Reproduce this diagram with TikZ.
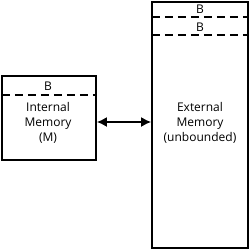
\documentclass[tikz,border=0pt]{standalone}
\usepackage{fontspec}
\setmainfont{Open Sans}
\usetikzlibrary{arrows.meta}
\begin{document}
\begin{tikzpicture}[x=1pt,y=-1pt,
  box/.style={draw, line width=1.8pt, fill=white},
  dashline/.style={line width=1.5pt, dash pattern=on 8pt off 5pt},
  lbl/.style={font=\fontsize{12}{14.8}\selectfont, align=center, inner sep=0pt},
  conn/.style={line width=1.5pt, {Latex[length=10pt,width=10pt]}-{Latex[length=10pt,width=10pt]}}]
\useasboundingbox (0,0) rectangle (250,250);
\node[box, minimum width=94pt, minimum height=84pt, inner sep=0pt] (im) at (49,118) {};
\node[box, minimum width=96pt, minimum height=246pt, inner sep=0pt] (em) at (200,125) {};
\coordinate (d1l) at (2,95); \coordinate (d1r) at (96,95);
\draw[dashline] (d1l) -- (d1r);
\coordinate (d2l) at (152,17); \coordinate (d2r) at (248,17);
\coordinate (d3l) at (152,35); \coordinate (d3r) at (248,35);
\draw[dashline] (d2l) -- (d2r);
\draw[dashline] (d3l) -- (d3r);
\node[lbl] (b1) at (48,86) {B};
\node[lbl] (b2) at (200,9) {B};
\node[lbl] (b3) at (200,27) {B};
\node[lbl] (itext) at (48,123) {Internal\\Memory\\(M)};
\node[lbl] (etext) at (200,123) {External\\Memory\\(unbounded)};
\draw[conn] (im.east |- 0,122) -- (em.west |- 0,122);
\end{tikzpicture}
\end{document}
